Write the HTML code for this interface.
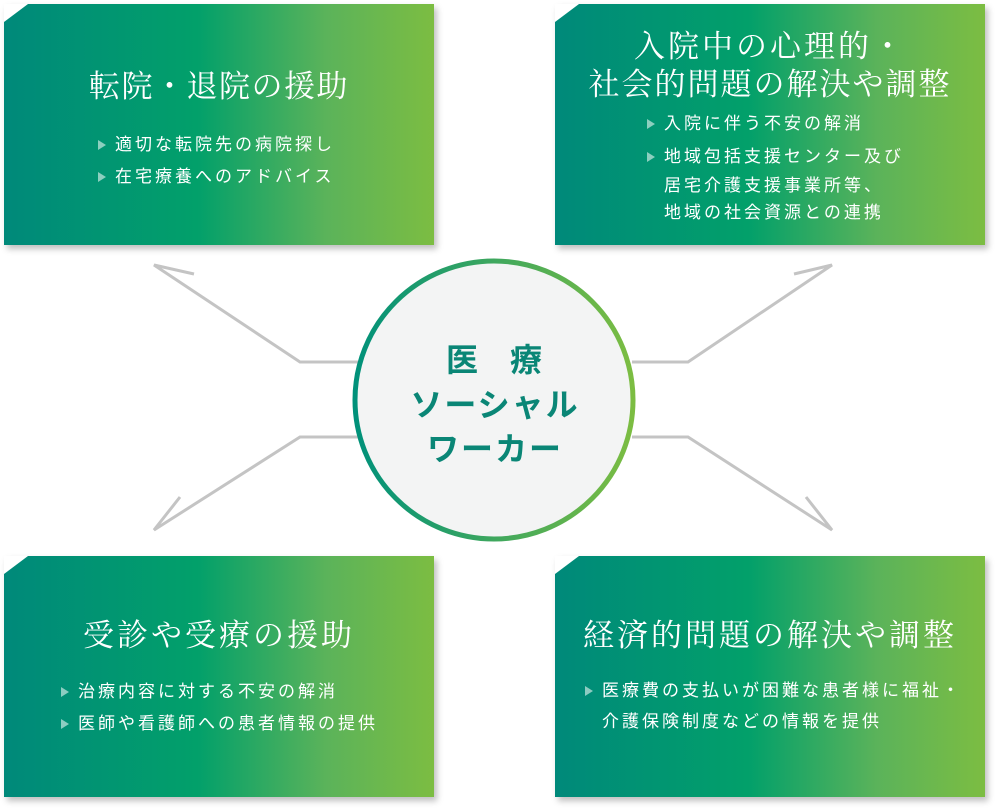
<!DOCTYPE html>
<html><head><meta charset="utf-8"><style>
body{margin:0;width:1000px;height:812px;background:#fff;position:relative;overflow:hidden}
.box{position:absolute;width:430px;height:241px;background:linear-gradient(90deg,#00897a 0%,#02a06a 45%,#5bb35a 75%,#7cbd42 100%);clip-path:polygon(24px 0,100% 0,100% 100%,0 100%,0 18px);}
.sh{position:absolute;width:430px;height:241px;box-shadow:3px 4px 6px rgba(0,0,0,.25);}
.t{position:absolute;left:0;width:100%;text-align:center;color:#fff;font-family:"Liberation Serif","Noto Serif CJK SC",serif;font-size:31px;line-height:38px;white-space:nowrap;letter-spacing:3px}
.b{position:absolute;color:#fff;font-family:"Liberation Sans","Noto Sans CJK JP",sans-serif;font-size:17px;line-height:20px;white-space:nowrap;letter-spacing:3px}
.b i{position:absolute;left:-17px;top:5px;width:0;height:0;border-left:8px solid rgba(255,255,255,.55);border-top:5px solid transparent;border-bottom:5px solid transparent}
</style></head><body>
<div class="sh" style="left:4px;top:4px"></div><div class="sh" style="left:555px;top:4px"></div>
<div class="sh" style="left:4px;top:556px"></div><div class="sh" style="left:555px;top:556px"></div>
<div class="box" style="left:4px;top:4px">
<div class="t" style="top:64px;letter-spacing:1.5px">転院・退院の援助</div>
<div class="b" style="left:111px;top:131px"><i></i>適切な転院先の病院探し</div>
<div class="b" style="left:111px;top:163px"><i></i>在宅療養へのアドバイス</div>
</div>
<div class="box" style="left:555px;top:4px">
<div class="t" style="top:24px;letter-spacing:3px">入院中の心理的・</div>
<div class="t" style="top:62px;letter-spacing:2px">社会的問題の解決や調整</div>
<div class="b" style="left:109px;top:110px"><i></i>入院に伴う不安の解消</div>
<div class="b" style="left:109px;top:143px"><i></i>地域包括支援センター及び</div>
<div class="b" style="left:109px;top:172px">居宅介護支援事業所等、</div>
<div class="b" style="left:109px;top:199px">地域の社会資源との連携</div>
</div>
<div class="box" style="left:4px;top:556px">
<div class="t" style="top:61px">受診や受療の援助</div>
<div class="b" style="left:74px;top:126px"><i></i>治療内容に対する不安の解消</div>
<div class="b" style="left:74px;top:158px"><i></i>医師や看護師への患者情報の提供</div>
</div>
<div class="box" style="left:555px;top:556px">
<div class="t" style="top:61px">経済的問題の解決や調整</div>
<div class="b" style="left:47px;top:125px"><i></i>医療費の支払いが困難な患者様に福祉・</div>
<div class="b" style="left:47px;top:156px">介護保険制度などの情報を提供</div>
</div>
<svg width="1000" height="812" style="position:absolute;left:0;top:0">
<defs><linearGradient id="g" x1="0" x2="1"><stop offset="0" stop-color="#00917a"/><stop offset="1" stop-color="#7cbd42"/></linearGradient></defs>
<g fill="none" stroke="#c4c4c4" stroke-width="3">
<polyline points="194,274 154,265 300,362 358,362"/>
<polyline points="180,497 154,530 300,437 358,437"/>
<polyline points="794,274 832,265 688,362 632,362"/>
<polyline points="806,497 832,530 688,437 632,437"/>
</g>
<circle cx="494" cy="400" r="139" fill="#f3f4f4" stroke="url(#g)" stroke-width="5"/>
<g fill="#0a8676" font-family="Liberation Sans,Noto Sans CJK JP,sans-serif" font-weight="bold" font-size="32" text-anchor="middle">
<text x="494" y="371">医　療</text>
<text x="495" y="416" letter-spacing="2">ソーシャル</text>
<text x="495" y="460" letter-spacing="2">ワーカー</text>
</g>
</svg>
</body></html>
